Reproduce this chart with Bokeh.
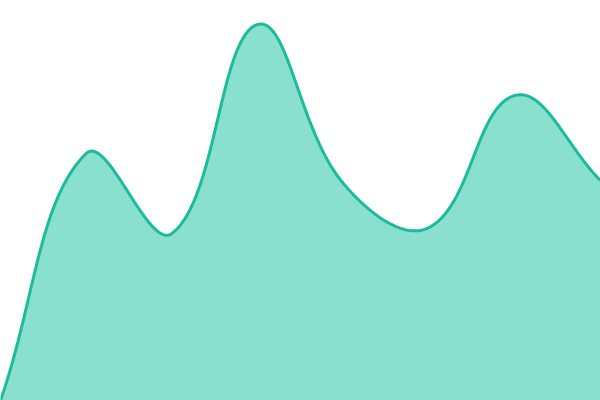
import numpy as np
from bokeh.plotting import figure
from bokeh.models import Range1d
from bokeh.embed import file_html
from bokeh.resources import INLINE

# data (x index, value)
xs = list(range(8))
values = [0, 247, 167, 376, 217, 173, 305, 220]

LINE = "#1abc9c"
FILL = "#8ae0cf"
W, H = 600, 400
X_MAX, Y_MAX = 7, 400


def tension_spline(x, y, sx_scale, sy_scale, tension=0.4, n=60):
    """Distance-weighted Bezier spline (tension 0.4), computed in screen space."""
    P = np.column_stack([np.asarray(x, float) * sx_scale,
                         np.asarray(y, float) * sy_scale])
    m = len(P)
    cin, cout = [], []
    for i in range(m):
        cur = P[i]
        prev = P[i - 1] if i > 0 else cur
        nxt = P[i + 1] if i < m - 1 else cur
        d01 = np.linalg.norm(cur - prev)
        d12 = np.linalg.norm(nxt - cur)
        tot = d01 + d12
        s01 = d01 / tot if tot else 0.0
        s12 = d12 / tot if tot else 0.0
        cin.append(cur - tension * s01 * (nxt - prev))
        cout.append(cur + tension * s12 * (nxt - prev))
    out = []
    for i in range(m - 1):
        p1, p2, c1, c2 = P[i], P[i + 1], cout[i], cin[i + 1]
        t = np.linspace(0, 1, n, endpoint=(i == m - 2))[:, None]
        out.append((1 - t) ** 3 * p1 + 3 * (1 - t) ** 2 * t * c1
                   + 3 * (1 - t) * t ** 2 * c2 + t ** 3 * p2)
    S = np.vstack(out)
    return S[:, 0] / sx_scale, S[:, 1] / sy_scale


cx, cy = tension_spline(xs, values, W / X_MAX, H / Y_MAX)

p = figure(width=W, height=H, output_backend="svg", toolbar_location=None,
           x_range=Range1d(0, X_MAX), y_range=Range1d(0, Y_MAX),
           min_border=0, min_border_left=0, min_border_right=0,
           min_border_top=0, min_border_bottom=0)
p.axis.visible = False
p.grid.visible = False
p.outline_line_color = None
p.background_fill_color = "white"
p.border_fill_color = "white"

p.varea(x=cx, y1=np.zeros_like(cy), y2=cy, fill_color=FILL)
p.line(cx, cy, line_color=LINE, line_width=3)

open("out.html", "w").write(file_html(p, INLINE))
